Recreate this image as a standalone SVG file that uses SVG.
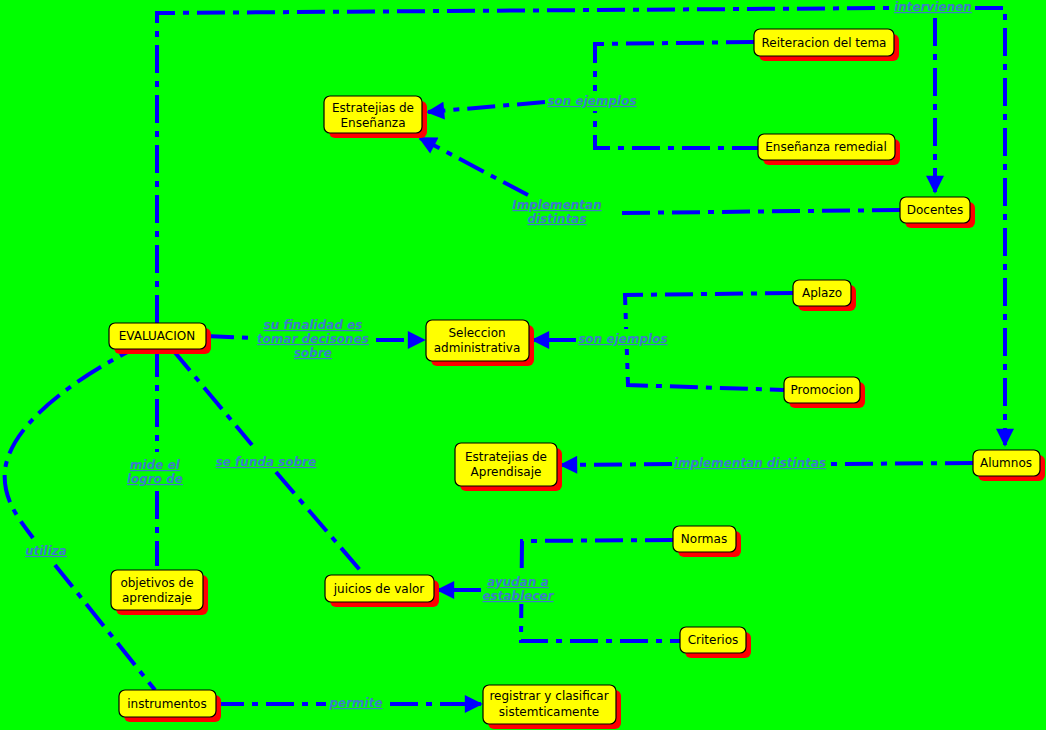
<svg xmlns="http://www.w3.org/2000/svg" width="1046" height="730" viewBox="0 0 1046 730">
<defs>
<marker id="ah" viewBox="0 0 10 10" refX="9" refY="5" markerWidth="5" markerHeight="4.5" markerUnits="strokeWidth" orient="auto"><path d="M0,0 L10,5 L0,10 z" fill="#0000ff"/></marker>
<style>
.c{fill:none;stroke:#0000ff;stroke-width:4;stroke-dasharray:28,8,6,8}
.bg{fill:#00ff00}
.n rect.s{fill:#ff0000}
.n rect.b{fill:#ffff00;stroke:#000;stroke-width:1.2}
.n text{font-family:"DejaVu Sans",Verdana,sans-serif;font-size:12px;fill:#000;text-anchor:middle}
.l{font-family:"DejaVu Sans",Verdana,sans-serif;font-size:12px;font-weight:bold;font-style:italic;fill:#3d7cc9;text-decoration:underline;text-anchor:middle}
</style>
</defs>
<rect width="1046" height="730" fill="#00ff00"/>
<g id="connectors">
<!-- intervienen -->
<path class="c" d="M157,323 L157,13 L890,8"/>
<path class="c" d="M975,8 L1005,8 L1005,445" marker-end="url(#ah)"/>
<path class="c" d="M935,18 L935,192" marker-end="url(#ah)"/>
<rect class="bg" x="893" y="0" width="80" height="15"/>
<text class="l" x="933" y="11">intervienen</text>
<!-- son ejemplos top -->
<path class="c" d="M754,42 L595,44 L595,148 L758,148"/>
<path class="c" d="M545,102 L428,112" marker-end="url(#ah)"/>
<rect class="bg" x="546" y="91" width="92" height="20"/>
<text class="l" x="592" y="105">son ejemplos</text>
<!-- Implementan distintas -->
<path class="c" d="M900,210 L620,213"/>
<path class="c" d="M528,195 L420,138" marker-end="url(#ah)"/>
<text class="l" x="557" y="209">Implementan</text>
<text class="l" x="557" y="223"> distintas</text>
<!-- su finalidad -->
<path class="c" d="M206,336 L255,338"/>
<path class="c" d="M376,340 L424,340" marker-end="url(#ah)"/>
<text class="l" x="313" y="329">su finalidad es</text>
<text class="l" x="313" y="343">tomar decisones</text>
<text class="l" x="313" y="357">sobre</text>
<!-- son ejemplos middle -->
<path class="c" d="M793,293 L625,295 L628,385 L784,390"/>
<path class="c" d="M576,340 L533,340" marker-end="url(#ah)"/>
<rect class="bg" x="577" y="329" width="92" height="20"/>
<text class="l" x="623" y="343">son ejemplos</text>
<!-- implementan distintas -->
<path class="c" d="M973,463 L830,464"/>
<path class="c" d="M672,464 L561,465" marker-end="url(#ah)"/>
<text class="l" x="750" y="467">implementan distintas</text>
<!-- mide el logro de -->
<path class="c" d="M157,349 L157,452"/>
<path class="c" d="M157,491 L157,566"/>
<text class="l" x="155" y="469">mide el</text>
<text class="l" x="155" y="483">logro de</text>
<!-- se funda sobre -->
<path class="c" d="M172,349 L252,445"/>
<path class="c" d="M276,472 L360,570"/>
<text class="l" x="266" y="466">se funda sobre</text>
<!-- utiliza -->
<path class="c" d="M145,343 C60,385 10,430 5,470 C2,500 20,520 33,538"/>
<path class="c" d="M55,565 L155,690"/>
<text class="l" x="46" y="555">utiliza</text>
<!-- ayudan a establecer -->
<path class="c" d="M673,540 L522,541 L521,641 L680,641"/>
<path class="c" d="M481,590 L438,590" marker-end="url(#ah)"/>
<rect class="bg" x="481" y="573" width="75" height="31"/>
<text class="l" x="518" y="586">ayudan a</text>
<text class="l" x="518" y="600">establecer</text>
<!-- permite -->
<path class="c" d="M216,704 L326,704"/>
<path class="c" d="M390,704 L481,704" marker-end="url(#ah)"/>
<text class="l" x="356" y="707">permite</text>
</g>
<g id="n-ensenanza" class="n"><rect class="s" x="329" y="101" width="98" height="37" rx="6"/><rect class="b" x="324" y="96" width="98" height="37" rx="6"/><text x="373" y="112">Estratejias de</text><text x="373" y="127">Enseñanza</text></g>
<g id="n-reiteracion" class="n"><rect class="s" x="759" y="34" width="140" height="27" rx="6"/><rect class="b" x="754" y="29" width="140" height="27" rx="6"/><text x="824" y="47">Reiteracion del tema</text></g>
<g id="n-remedial" class="n"><rect class="s" x="763" y="139" width="137" height="26" rx="6"/><rect class="b" x="758" y="134" width="137" height="26" rx="6"/><text x="826" y="151">Enseñanza remedial</text></g>
<g id="n-docentes" class="n"><rect class="s" x="905" y="202" width="70" height="26" rx="6"/><rect class="b" x="900" y="197" width="70" height="26" rx="6"/><text x="935" y="214">Docentes</text></g>
<g id="n-evaluacion" class="n"><rect class="s" x="114" y="328" width="97" height="26" rx="6"/><rect class="b" x="109" y="323" width="97" height="26" rx="6"/><text x="157" y="340">EVALUACION</text></g>
<g id="n-seleccion" class="n"><rect class="s" x="431" y="325" width="103" height="41" rx="6"/><rect class="b" x="426" y="320" width="103" height="41" rx="6"/><text x="477" y="337">Seleccion</text><text x="477" y="352">administrativa</text></g>
<g id="n-aplazo" class="n"><rect class="s" x="798" y="285" width="58" height="26" rx="6"/><rect class="b" x="793" y="280" width="58" height="26" rx="6"/><text x="822" y="297">Aplazo</text></g>
<g id="n-promocion" class="n"><rect class="s" x="789" y="382" width="76" height="26" rx="6"/><rect class="b" x="784" y="377" width="76" height="26" rx="6"/><text x="822" y="394">Promocion</text></g>
<g id="n-aprendisaje" class="n"><rect class="s" x="460" y="448" width="102" height="43" rx="6"/><rect class="b" x="455" y="443" width="102" height="43" rx="6"/><text x="506" y="461">Estratejias de</text><text x="506" y="476">Aprendisaje</text></g>
<g id="n-alumnos" class="n"><rect class="s" x="978" y="455" width="67" height="26" rx="6"/><rect class="b" x="973" y="450" width="67" height="26" rx="6"/><text x="1006" y="467">Alumnos</text></g>
<g id="n-objetivos" class="n"><rect class="s" x="116" y="575" width="92" height="40" rx="6"/><rect class="b" x="111" y="570" width="92" height="40" rx="6"/><text x="157" y="587">objetivos de</text><text x="157" y="602">aprendizaje</text></g>
<g id="n-juicios" class="n"><rect class="s" x="330" y="580" width="109" height="27" rx="6"/><rect class="b" x="325" y="575" width="109" height="27" rx="6"/><text x="379" y="593">juicios de valor</text></g>
<g id="n-normas" class="n"><rect class="s" x="678" y="531" width="63" height="26" rx="6"/><rect class="b" x="673" y="526" width="63" height="26" rx="6"/><text x="704" y="543">Normas</text></g>
<g id="n-criterios" class="n"><rect class="s" x="685" y="632" width="66" height="26" rx="6"/><rect class="b" x="680" y="627" width="66" height="26" rx="6"/><text x="713" y="644">Criterios</text></g>
<g id="n-instrumentos" class="n"><rect class="s" x="124" y="695" width="97" height="27" rx="6"/><rect class="b" x="119" y="690" width="97" height="27" rx="6"/><text x="167" y="708">instrumentos</text></g>
<g id="n-registrar" class="n"><rect class="s" x="488" y="690" width="133" height="39" rx="6"/><rect class="b" x="483" y="685" width="133" height="39" rx="6"/><text x="549" y="700">registrar y clasificar</text><text x="549" y="716">sistemticamente</text></g>
</svg>
